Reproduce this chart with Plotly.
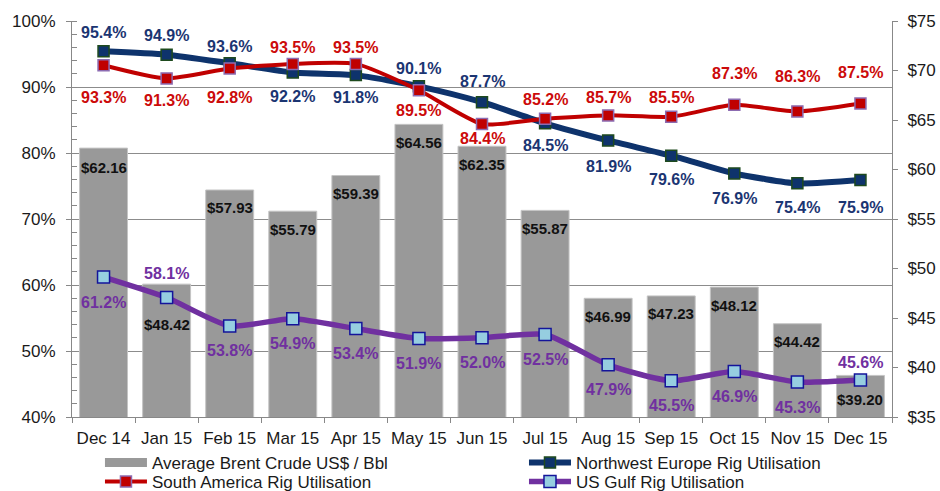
import plotly.graph_objects as go

# ---------------- data ----------------
months = ["Dec 14", "Jan 15", "Feb 15", "Mar 15", "Apr 15", "May 15", "Jun 15",
          "Jul 15", "Aug 15", "Sep 15", "Oct 15", "Nov 15", "Dec 15"]
brent = [62.16, 48.42, 57.93, 55.79, 59.39, 64.56, 62.35, 55.87, 46.99, 47.23, 48.12, 44.42, 39.20]
nw_europe = [95.4, 94.9, 93.6, 92.2, 91.8, 90.1, 87.7, 84.5, 81.9, 79.6, 76.9, 75.4, 75.9]
south_america = [93.3, 91.3, 92.8, 93.5, 93.5, 89.5, 84.4, 85.2, 85.7, 85.5, 87.3, 86.3, 87.5]
us_gulf = [61.2, 58.1, 53.8, 54.9, 53.4, 51.9, 52.0, 52.5, 47.9, 45.5, 46.9, 45.3, 45.6]

names = {
    "brent": "Average Brent Crude US$ / Bbl",
    "nw": "Northwest Europe Rig Utilisation",
    "sa": "South America Rig Utilisation",
    "us": "US Gulf Rig Utilisation",
}

# ---------------- label placement (style: pixel offsets, + = up) ----------------
nw_shift = [19, 19, 17, -24, -22, 18, 21, -22, -26, -24, -25, -24, -27]
sa_shift = [-32, -22, -29, 16, 16, -20, -15, 19, 18, 19, 31, 35, 31]
us_shift = [-25, 24, -25, -25, -25, -25, -25, -25, -25, -25, -25, -25, 18]
bar_shift = [-19, -40, -18, -18, -18, -18, -18, -18, -18, -18, -18, -18, -24]

FONT = "Liberation Sans, Arial, sans-serif"
C_BAR = "#999999"
C_NW = "#0E336C"
C_NW_TXT = "#1B3572"
C_SA = "#C00000"
C_SA_TXT = "#CC0A0A"
C_US = "#7030A0"
C_AX = "#888888"

fig = go.Figure()

# bars on primary ($) axis so they are drawn beneath the lines
fig.add_trace(go.Bar(
    x=months, y=brent, yaxis="y", name=names["brent"], showlegend=False,
    marker=dict(color=C_BAR, line=dict(color="#C4C4C4", width=1)),
    width=0.76,
))
# legend proxy for the bar series (wide swatch)
fig.add_trace(go.Scatter(
    x=[None], y=[None], mode="lines", name=names["brent"], legend="legend",
    line=dict(color=C_BAR, width=9), yaxis="y",
))
fig.add_trace(go.Scatter(
    x=months, y=nw_europe, yaxis="y2", name=names["nw"], mode="lines+markers", legend="legend2",
    line=dict(color=C_NW, width=6, shape="spline", smoothing=0.6),
    marker=dict(symbol="square", size=11, color=C_NW, line=dict(color="#1E4A1E", width=1.5)),
))
fig.add_trace(go.Scatter(
    x=months, y=south_america, yaxis="y2", name=names["sa"], mode="lines+markers", legend="legend3",
    line=dict(color=C_SA, width=4, shape="spline", smoothing=0.6),
    marker=dict(symbol="square", size=11, color=C_SA, line=dict(color="#8C6BB1", width=1.5)),
))
fig.add_trace(go.Scatter(
    x=months, y=us_gulf, yaxis="y2", name=names["us"], mode="lines+markers", legend="legend4",
    line=dict(color=C_US, width=5.5, shape="spline", smoothing=0.6),
    marker=dict(symbol="square", size=12, color="#96CEE0", line=dict(color="#14149A", width=1.5)),
))

ann = []
for m, v, s in zip(months, brent, bar_shift):
    ann.append(dict(x=m, y=v, xref="x", yref="y", text=f"${v:.2f}", showarrow=False,
                    yshift=s, font=dict(family=FONT, size=15, color="#111111", weight="bold")))
for series, shifts, col in ((nw_europe, nw_shift, C_NW_TXT),
                            (south_america, sa_shift, C_SA_TXT),
                            (us_gulf, us_shift, C_US)):
    for m, v, s in zip(months, series, shifts):
        ann.append(dict(x=m, y=v, xref="x", yref="y2", text=f"{v:.1f}%", showarrow=False,
                        yshift=s, font=dict(family=FONT, size=16, color=col, weight="bold")))

legend_common = dict(
    orientation="v", xanchor="left", yanchor="top",
    font=dict(size=17, color="#1a1a1a"), itemwidth=42,
    bgcolor="rgba(0,0,0,0)", tracegroupgap=0, itemsizing="trace",
)
COL1, COL2 = 0.0341, 0.5512
ROW1, ROW2 = -0.0707, -0.1186

fig.update_layout(
    width=940, height=491,
    margin=dict(l=72, r=48, t=21, b=74, autoexpand=False),
    paper_bgcolor="white", plot_bgcolor="white",
    font=dict(family=FONT, size=17, color="#1a1a1a"),
    annotations=ann,
    xaxis=dict(
        type="category", showline=True, linecolor=C_AX, linewidth=1,
        ticks="outside", tickson="boundaries", ticklen=5, tickcolor=C_AX,
        showgrid=False, tickfont=dict(size=17), tickangle=0, range=[-0.5, 12.5],
        automargin=False, ticklabelstandoff=6,
    ),
    yaxis=dict(
        side="right", range=[35, 75], dtick=5, tickprefix="$",
        showline=True, linecolor=C_AX, linewidth=1, ticks="outside", ticklen=5,
        tickcolor=C_AX, showgrid=False, zeroline=False, tickfont=dict(size=17),
        automargin=False, ticklabelstandoff=6,
    ),
    yaxis2=dict(
        overlaying="y", side="left", range=[40, 100], dtick=10, ticksuffix="%",
        showline=True, linecolor=C_AX, linewidth=1, ticks="outside", ticklen=5,
        tickcolor=C_AX, showgrid=True, gridcolor="#8C8C8C", gridwidth=1, zeroline=False,
        tickfont=dict(size=17), automargin=False, ticklabelstandoff=7,
        minor=dict(dtick=2, ticks="inside", ticklen=5, tickcolor=C_AX, showgrid=False),
    ),
    legend=dict(x=COL1, y=ROW1, **legend_common),
    legend2=dict(x=COL2, y=ROW1, **legend_common),
    legend3=dict(x=COL1, y=ROW2, **legend_common),
    legend4=dict(x=COL2, y=ROW2, **legend_common),
    showlegend=True,
)

# remove the default 8px page margin so the 940x491 figure fills the window exactly
fig.write_html("out.html", config={"displayModeBar": False},
               post_script="document.body.style.margin='0';")
